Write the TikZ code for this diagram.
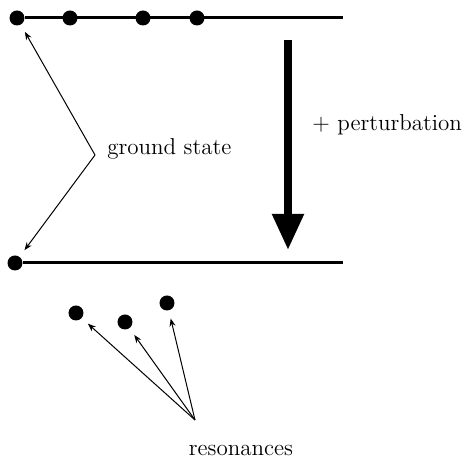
\documentclass[tikz,border=0pt]{standalone}
\usepackage{tikz}
\usetikzlibrary{arrows.meta}

\begin{document}
\begin{tikzpicture}[x=0.5pt, y=-0.5pt,
  dot/.style={circle, fill, inner sep=0pt, minimum size=7.5pt},
  level/.style={line width=1.5pt},
  lbl/.style={font=\fontsize{11.5}{13}\selectfont, inner sep=0pt},
  thinarr/.style={-{Stealth[length=4pt, width=3pt]}, line width=0.5pt, shorten >=4pt},
  bigarr/.style={-{Triangle[length=18pt, width=15pt]}, line width=4pt}]
\useasboundingbox (0,0) rectangle (462,459);
% unperturbed levels
\node[dot] (top1) at (17,18) {};
\node[dot] (top2) at (70,18) {};
\node[dot] (top3) at (143,18) {};
\node[dot] (top4) at (197,18) {};
\coordinate (topend) at (343,18);
\draw[level] (top1) -- (topend);
% perturbed levels
\node[dot] (bot1) at (15,263) {};
\coordinate (botend) at (343,263);
\draw[level] (bot1) -- (botend);
\node[dot] (res1) at (76,313) {};
\node[dot] (res2) at (125,322) {};
\node[dot] (res3) at (167,303) {};
% perturbation arrow
\coordinate (pstart) at (288,40);
\coordinate (pend) at (288,250);
\draw[bigarr] (pstart) -- (pend);
\node[lbl, anchor=base west] (pert) at (312,131) {+ perturbation};
% labels
\node[lbl, anchor=base west] (gs) at (107,155) {ground state};
\coordinate (gsv) at (95,155);
\draw[thinarr] (gsv) -- (top1);
\draw[thinarr] (gsv) -- (bot1);
\node[lbl, anchor=base] (res) at (241,456) {resonances};
\coordinate (resv) at (195,420);
\draw[thinarr] (resv) -- (res1);
\draw[thinarr] (resv) -- (res2);
\draw[thinarr] (resv) -- (res3);
\end{tikzpicture}
\end{document}
